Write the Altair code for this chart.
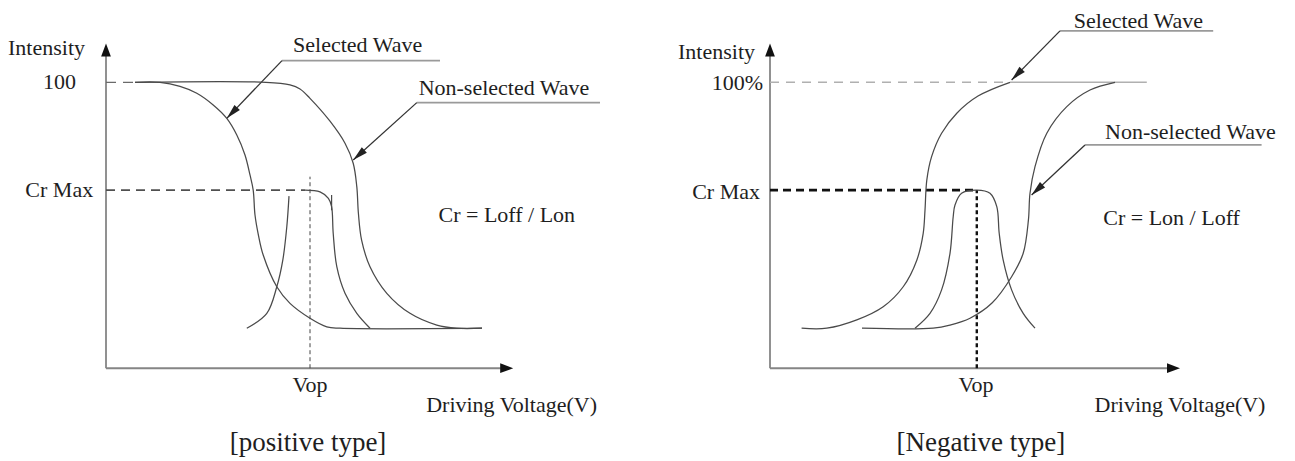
import math
import altair as alt
import pandas as pd

FONT = "Liberation Serif"

# ---------------- positive type (left panel) ----------------
pos_sel_x = [7.25, 13.5, 18.5, 22.7, 26.8, 30.2, 32.7, 34.75, 36.0, 36.8, 37.25, 38.1, 39.3, 42.7, 46.0, 51.0, 55.2, 58.5, 94.0]
pos_sel_y = [100, 100, 98.6, 96.2, 92.1, 87.4, 81.6, 74.6, 67.6, 62.3, 53.6, 46.6, 39.6, 28.5, 22.7, 17.5, 14.5, 14.0, 14.0]
pos_non_x = [7.25, 40.0, 46.0, 48.5, 51.0, 56.0, 59.75, 61.8, 62.7, 63.1, 63.9, 66.0, 70.2, 76.0, 82.7, 87.7, 94.0]
pos_non_y = [100, 100, 99.1, 97.7, 94.4, 86.4, 78.7, 71.7, 63.5, 54.2, 44.8, 35.5, 26.2, 19.2, 15.1, 14.0, 14.0]
pos_cr_rise_x = [35.2, 40.2, 42.7, 44.2, 45.2, 45.75]
pos_cr_rise_y = [14.0, 19.2, 28.5, 37.8, 49.5, 60.2]
pos_cr_fall_x = [49.75, 53.5, 55.6, 56.4, 56.8, 57.7, 59.75, 62.7, 66.0]
pos_cr_fall_y = [62.3, 61.7, 59.4, 56.5, 47.2, 35.5, 26.2, 19.2, 14.0]
pos_full_level = 100
pos_full_dash_end = 7.25
pos_cr_max = 62.3
pos_cr_dash_end = 49.75
pos_vop = 51.0
pos_vop_top = 67.0
pos_x_tip = 101.8
pos_y_tip = 113.6
pos_labels_right = ["Intensity", "100", "Cr Max"]
pos_labels_right_x = [-5.25, -7.5, -3.2]
pos_labels_right_y = [111.9, 100, 62.3]
pos_labels_center = ["Vop", "Driving Voltage(V)", "Selected Wave", "Non-selected Wave", "Cr = Loff / Lon"]
pos_labels_center_x = [51.0, 101.4, 62.9, 99.5, 100.2]
pos_labels_center_y = [-5.9, -12.9, 113.0, 97.9, 53.6]
pos_title = "[positive type]"
pos_title_xy = [50.5, -26.2]
# leader lines: underline start, underline end, arrow tip
pos_sel_leader = [(44.0, 107.6), (83.5, 107.6), (30.2, 87.4)]
pos_non_leader = [(77.7, 92.9), (123.5, 92.9), (61.8, 72.8)]

# ---------------- negative type (right panel) ----------------
neg_sel_x = [7.9, 14.2, 21.7, 28.3, 33.3, 36.7, 38.3, 38.75, 39.2, 40.4, 42.9, 46.7, 52.0, 60.0]
neg_sel_y = [14.0, 14.0, 16.9, 21.5, 28.5, 37.8, 47.2, 55.3, 65.8, 74.0, 82.2, 89.2, 95.2, 100]
neg_non_x = [23.0, 40.8, 45.0, 50.0, 55.5, 60.4, 63.3, 64.6, 65.0, 66.25, 69.2, 74.2, 80.0, 86.25]
neg_non_y = [14.0, 14.0, 15.1, 17.5, 22.8, 32.0, 40.2, 51.8, 61.2, 70.5, 82.2, 91.5, 97.3, 100]
neg_cr_x = [36.25, 40.0, 42.9, 45.0, 45.8, 46.25, 47.9, 51.7, 55.0, 56.7, 57.3, 58.3, 60.4, 63.3, 66.25]
neg_cr_y = [14.0, 19.2, 27.4, 40.2, 53.0, 57.1, 61.2, 62.3, 61.2, 56.5, 47.2, 37.8, 27.4, 19.2, 14.0]
neg_full_level = 100
neg_full_dash_end = 60.0
neg_full_line_end = 94.2
neg_cr_max = 62.3
neg_vop = 51.7
neg_x_tip = 102.5
neg_y_tip = 113.6
neg_labels_right = ["Intensity", "100%", "Cr Max"]
neg_labels_right_x = [-3.75, -1.7, -2.5]
neg_labels_right_y = [110.7, 99.7, 61.8]
neg_labels_center = ["Vop", "Driving Voltage(V)", "Selected Wave", "Non-selected Wave", "Cr = Lon / Loff"]
neg_labels_center_x = [51.5, 102.5, 92.1, 105.1, 100.4]
neg_labels_center_y = [-5.9, -12.9, 121.6, 82.7, 52.4]
neg_title = "[Negative type]"
neg_title_xy = [52.7, -26.2]
neg_sel_leader = [(72.5, 118.0), (110.8, 118.0), (60.4, 100.8)]
neg_non_leader = [(78.75, 78.1), (122.9, 78.1), (65.4, 60.6)]

# ---------------- layout constants ----------------
HEIGHT = 444
Y_DOMAIN = [-29.3, 126.0]
PX_X = 4.0
PX_Y = HEIGHT / (Y_DOMAIN[1] - Y_DOMAIN[0])

POINTER = "M0,0L0.5,2L-0.5,2Z"
AXIS_HEAD = "M0,0L0.75,2L-0.75,2Z"

CURVE = "#4a4a4a"
AXIS = "#858585"
TEXT = "#1e1e1e"
FS = 22
FS_TITLE = 27


def angle(x0, y0, x1, y1):
    dx = (x1 - x0) * PX_X
    dy = -(y1 - y0) * PX_Y
    return math.degrees(math.atan2(dx, -dy)) % 360


def panel(width, x_domain, curves, rules, heads, texts_r, texts_c, title):
    X = lambda f: alt.X(f, type="quantitative", scale=alt.Scale(domain=x_domain, nice=False, zero=False), axis=None)
    Y = lambda f: alt.Y(f, type="quantitative", scale=alt.Scale(domain=Y_DOMAIN, nice=False, zero=False), axis=None)

    cdf = pd.DataFrame(curves)
    rdf = pd.DataFrame(rules)
    hdf = pd.DataFrame(heads)

    layers = []
    styles = {
        "axis": dict(color=AXIS, strokeWidth=1.8),
        "full_dash": dict(color="#6a6a6a", strokeWidth=1.3, strokeDash=[10, 7]),
        "full_dash_light": dict(color="#b0b0b0", strokeWidth=1.5, strokeDash=[9, 7]),
        "full_line_light": dict(color="#b0b0b0", strokeWidth=1.5),
        "cr_dash": dict(color="#505050", strokeWidth=1.6, strokeDash=[9, 6]),
        "cr_dash_bold": dict(color="#111111", strokeWidth=2.6, strokeDash=[8, 5]),
        "vop_dot": dict(color="#444444", strokeWidth=1.0, strokeDash=[4, 3]),
        "vop_dot_bold": dict(color="#111111", strokeWidth=2.4, strokeDash=[4, 3]),
        "underline": dict(color="#9a9a9a", strokeWidth=1.8),
        "pointer": dict(color="#333333", strokeWidth=1.3),
        "tick": dict(color=CURVE, strokeWidth=1.2),
    }
    for kind in rdf["kind"].unique():
        layers.append(
            alt.Chart(rdf[rdf["kind"] == kind]).mark_rule(**styles[kind]).encode(
                x=X("x"), x2="x2:Q", y=Y("y"), y2="y2:Q"
            )
        )
    layers.append(
        alt.Chart(cdf).mark_line(interpolate="catmull-rom", color=CURVE, strokeWidth=1.25).encode(
            x=X("x"), y=Y("y"), detail="curve:N", order="i:Q"
        )
    )
    for shape, size, color in [(POINTER, 225, "#222222"), (AXIS_HEAD, 169, "#111111")]:
        sub = hdf[hdf["shape"] == shape]
        layers.append(
            alt.Chart(sub).mark_point(shape=shape, size=size, filled=True, opacity=1, color=color).encode(
                x=X("x"), y=Y("y"), angle=alt.Angle("angle:Q", scale=None)
            )
        )
    layers.append(
        alt.Chart(pd.DataFrame(texts_r)).mark_text(
            font=FONT, fontSize=FS, align="right", baseline="middle", color=TEXT
        ).encode(x=X("x"), y=Y("y"), text="label:N")
    )
    layers.append(
        alt.Chart(pd.DataFrame(texts_c)).mark_text(
            font=FONT, fontSize=FS, align="center", baseline="middle", color=TEXT
        ).encode(x=X("x"), y=Y("y"), text="label:N")
    )
    layers.append(
        alt.Chart(pd.DataFrame([title])).mark_text(
            font=FONT, fontSize=FS_TITLE, align="center", baseline="middle", color=TEXT
        ).encode(x=X("x"), y=Y("y"), text="label:N")
    )
    return alt.layer(*layers).properties(width=width, height=HEIGHT)


def curve_rows(name, xs, ys):
    return [{"curve": name, "i": i, "x": a, "y": b} for i, (a, b) in enumerate(zip(xs, ys))]


def leader(rows, heads, ld):
    (sx, sy), (ex, ey), (tx, ty) = ld
    rows.append({"kind": "underline", "x": sx, "x2": ex, "y": sy, "y2": ey})
    rows.append({"kind": "pointer", "x": sx, "x2": tx, "y": sy, "y2": ty})
    heads.append({"shape": POINTER, "x": tx, "y": ty, "angle": angle(sx, sy, tx, ty)})


# ---- left panel data assembly ----
l_curves = (curve_rows("selected", pos_sel_x, pos_sel_y) + curve_rows("non", pos_non_x, pos_non_y)
            + curve_rows("cr_rise", pos_cr_rise_x, pos_cr_rise_y) + curve_rows("cr_fall", pos_cr_fall_x, pos_cr_fall_y))
l_rules = [
    {"kind": "axis", "x": 0, "x2": pos_x_tip - 2, "y": 0, "y2": 0},
    {"kind": "axis", "x": 0, "x2": 0, "y": 0, "y2": pos_y_tip - 3},
    {"kind": "full_dash", "x": 0, "x2": pos_full_dash_end, "y": pos_full_level, "y2": pos_full_level},
    {"kind": "cr_dash", "x": 0, "x2": pos_cr_dash_end, "y": pos_cr_max, "y2": pos_cr_max},
    {"kind": "vop_dot", "x": pos_vop, "x2": pos_vop, "y": 0, "y2": pos_vop_top},
    {"kind": "tick", "x": pos_cr_fall_x[3], "x2": pos_cr_fall_x[3], "y": 60.6, "y2": 55.3},
]
l_heads = [
    {"shape": AXIS_HEAD, "x": 0, "y": pos_y_tip, "angle": 0},
    {"shape": AXIS_HEAD, "x": pos_x_tip, "y": 0, "angle": 90},
]
leader(l_rules, l_heads, pos_sel_leader)
leader(l_rules, l_heads, pos_non_leader)
l_tr = [{"label": t, "x": a, "y": b} for t, a, b in zip(pos_labels_right, pos_labels_right_x, pos_labels_right_y)]
l_tc = [{"label": t, "x": a, "y": b} for t, a, b in zip(pos_labels_center, pos_labels_center_x, pos_labels_center_y)]
l_title = {"label": pos_title, "x": pos_title_xy[0], "y": pos_title_xy[1]}

# ---- right panel data assembly ----
r_curves = (curve_rows("selected", neg_sel_x, neg_sel_y) + curve_rows("non", neg_non_x, neg_non_y)
            + curve_rows("cr", neg_cr_x, neg_cr_y))
r_rules = [
    {"kind": "axis", "x": 0, "x2": neg_x_tip - 2, "y": 0, "y2": 0},
    {"kind": "axis", "x": 0, "x2": 0, "y": 0, "y2": neg_y_tip - 3},
    {"kind": "full_dash_light", "x": 0, "x2": neg_full_dash_end, "y": neg_full_level, "y2": neg_full_level},
    {"kind": "full_line_light", "x": neg_full_dash_end, "x2": neg_full_line_end, "y": neg_full_level, "y2": neg_full_level},
    {"kind": "cr_dash_bold", "x": 0, "x2": neg_vop, "y": neg_cr_max, "y2": neg_cr_max},
    {"kind": "vop_dot_bold", "x": neg_vop, "x2": neg_vop, "y": 0, "y2": neg_cr_max},
]
r_heads = [
    {"shape": AXIS_HEAD, "x": 0, "y": neg_y_tip, "angle": 0},
    {"shape": AXIS_HEAD, "x": neg_x_tip, "y": 0, "angle": 90},
]
leader(r_rules, r_heads, neg_sel_leader)
leader(r_rules, r_heads, neg_non_leader)
r_tr = [{"label": t, "x": a, "y": b} for t, a, b in zip(neg_labels_right, neg_labels_right_x, neg_labels_right_y)]
r_tc = [{"label": t, "x": a, "y": b} for t, a, b in zip(neg_labels_center, neg_labels_center_x, neg_labels_center_y)]
r_title = {"label": neg_title, "x": neg_title_xy[0], "y": neg_title_xy[1]}

left = panel(640, [-24.5, 135.5], l_curves, l_rules, l_heads, l_tr, l_tc, l_title)
right = panel(638, [-30.5, 129.0], r_curves, r_rules, r_heads, r_tr, r_tc, r_title)

chart = (
    alt.hconcat(left, right, spacing=0, bounds="flush")
    .properties(padding=0, background="white")
    .configure_view(stroke=None)
)

chart.save("out.html", embed_options={"renderer": "svg", "actions": False})
